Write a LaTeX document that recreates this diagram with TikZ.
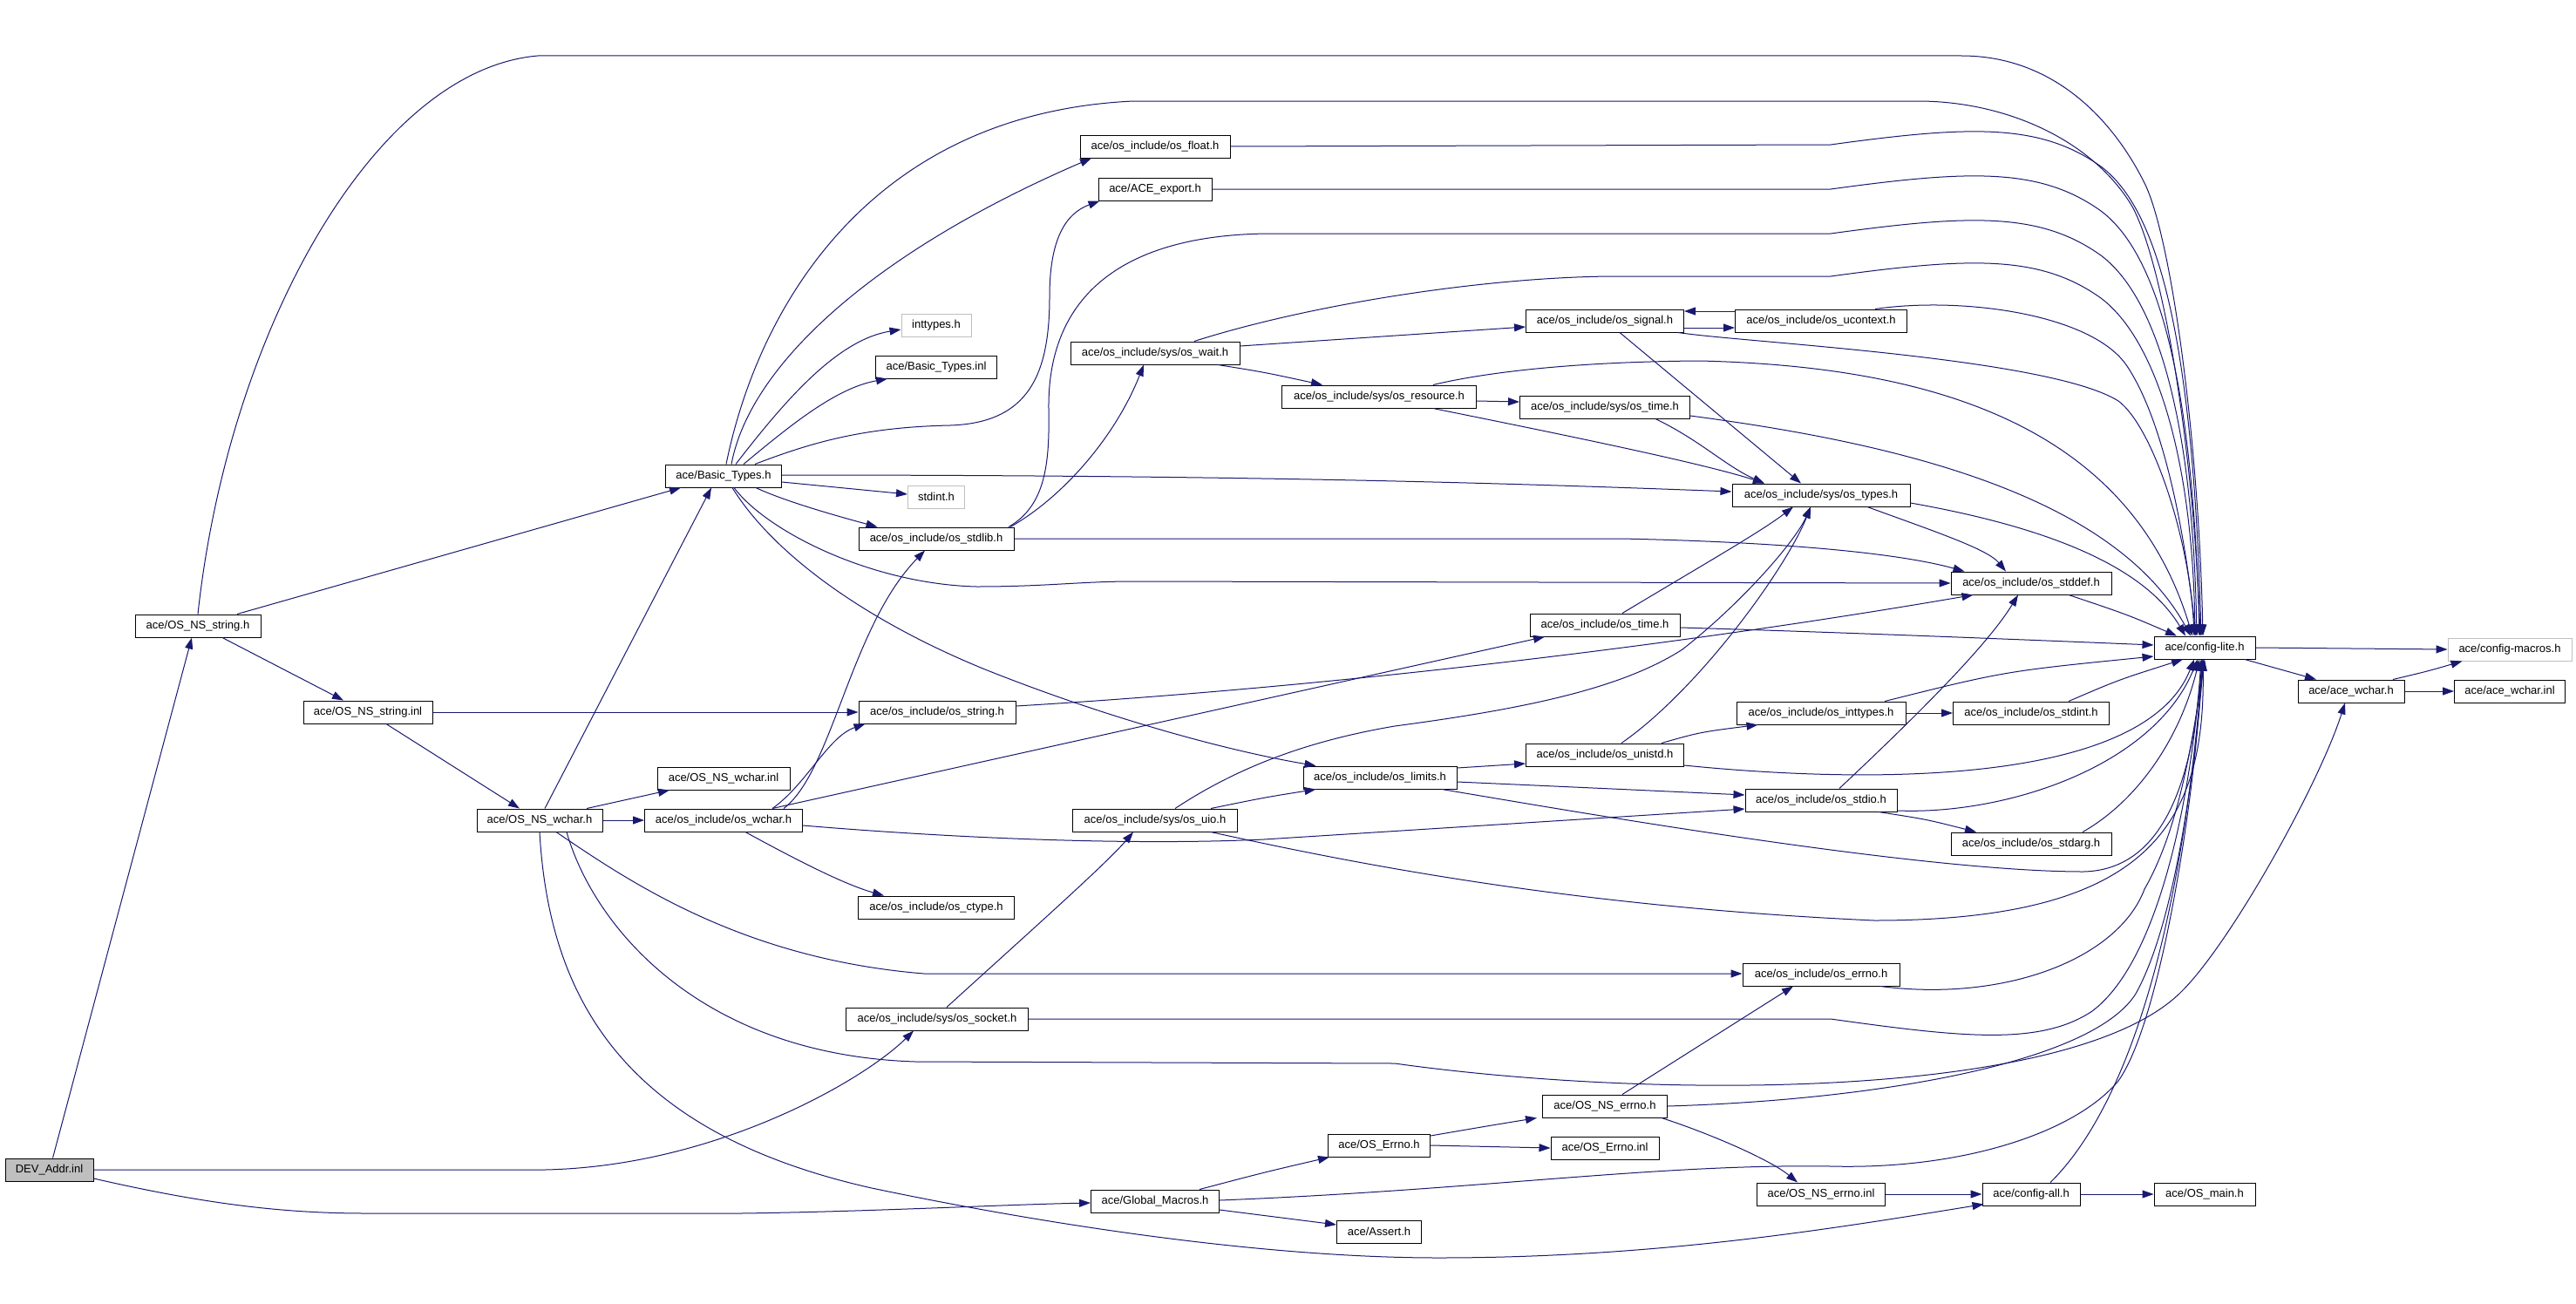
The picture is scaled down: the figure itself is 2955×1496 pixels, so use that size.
\documentclass[tikz,border=0pt]{standalone}
\usepackage{fontspec}
\setmainfont{Liberation Sans}
\usetikzlibrary{arrows.meta}
\definecolor{edgec}{HTML}{191970}
\definecolor{grayc}{HTML}{BFBFBF}
\begin{document}
\begin{tikzpicture}[x=1pt,y=-1pt,
  box/.style={draw=black, line width=1pt, rectangle, minimum height=26pt, inner sep=0pt, font=\fontsize{13}{15}\selectfont, fill=white},
  gbox/.style={box, draw=grayc},
  e/.style={draw=edgec, line width=1pt, -{Triangle[length=13pt,width=9pt]}}]
\fill[white] (0,0) rectangle (2955,1496);
\useasboundingbox (0,0) rectangle (2955,1496);
% nodes
\node[box, fill=grayc, minimum width=101pt] (DEV) at (56.5,1342) {DEV\_Addr.inl};
\node[box, minimum width=144pt] (OSNSstrh) at (227,718) {ace/OS\_NS\_string.h};
\node[box, minimum width=148pt] (OSNSstrinl) at (422,817) {ace/OS\_NS\_string.inl};
\node[box, minimum width=144pt] (OSNSwcharh) at (619,941) {ace/OS\_NS\_wchar.h};
\node[box, minimum width=152pt] (OSNSwcharinl) at (830,893) {ace/OS\_NS\_wchar.inl};
\node[box, minimum width=181pt] (oswchar) at (830,941) {ace/os\_include/os\_wchar.h};
\node[box, minimum width=133pt] (BT) at (830,546) {ace/Basic\_Types.h};
\node[gbox, minimum width=80pt] (inttypes) at (1074,373) {inttypes.h};
\node[box, minimum width=139pt] (BTinl) at (1074,421) {ace/Basic\_Types.inl};
\node[gbox, minimum width=65pt] (stdint) at (1074,570) {stdint.h};
\node[box, minimum width=178pt] (osstdlib) at (1074,618) {ace/os\_include/os\_stdlib.h};
\node[box, minimum width=180pt] (osstring) at (1075,817) {ace/os\_include/os\_string.h};
\node[box, minimum width=179pt] (osctype) at (1074,1041) {ace/os\_include/os\_ctype.h};
\node[box, minimum width=209pt] (ossocket) at (1075,1169) {ace/os\_include/sys/os\_socket.h};
\node[box, minimum width=172pt] (osfloat) at (1325,168) {ace/os\_include/os\_float.h};
\node[box, minimum width=130pt] (ACEexport) at (1325,217) {ace/ACE\_export.h};
\node[box, minimum width=194pt] (oswait) at (1325,405) {ace/os\_include/sys/os\_wait.h};
\node[box, minimum width=189pt] (osuio) at (1325,941) {ace/os\_include/sys/os\_uio.h};
\node[box, minimum width=147pt] (GM) at (1325,1378) {ace/Global\_Macros.h};
\node[box, minimum width=223pt] (osresource) at (1582,455) {ace/os\_include/sys/os\_resource.h};
\node[box, minimum width=176pt] (oslimits) at (1583,892) {ace/os\_include/os\_limits.h};
\node[box, minimum width=117pt] (OSErrnoh) at (1582,1314) {ace/OS\_Errno.h};
\node[box, minimum width=97pt] (Assert) at (1582,1413) {ace/Assert.h};
\node[box, minimum width=181pt] (ossignal) at (1841,368) {ace/os\_include/os\_signal.h};
\node[box, minimum width=195pt] (sysostime) at (1841,467) {ace/os\_include/sys/os\_time.h};
\node[box, minimum width=172pt] (ostime) at (1841,717) {ace/os\_include/os\_time.h};
\node[box, minimum width=181pt] (osunistd) at (1841,866) {ace/os\_include/os\_unistd.h};
\node[box, minimum width=143pt] (OSNSerrnoh) at (1841,1269) {ace/OS\_NS\_errno.h};
\node[box, minimum width=124pt] (OSErrnoinl) at (1841,1317) {ace/OS\_Errno.inl};
\node[box, minimum width=197pt] (osucontext) at (2089,368) {ace/os\_include/os\_ucontext.h};
\node[box, minimum width=204pt] (ostypes) at (2089,568) {ace/os\_include/sys/os\_types.h};
\node[box, minimum width=194pt] (osinttypes) at (2089,818) {ace/os\_include/os\_inttypes.h};
\node[box, minimum width=174pt] (osstdio) at (2089,918) {ace/os\_include/os\_stdio.h};
\node[box, minimum width=180pt] (oserrno) at (2089,1118) {ace/os\_include/os\_errno.h};
\node[box, minimum width=147pt] (OSNSerrnoinl) at (2089,1370) {ace/OS\_NS\_errno.inl};
\node[box, minimum width=184pt] (osstddef) at (2330,669) {ace/os\_include/os\_stddef.h};
\node[box, minimum width=179pt] (osstdint) at (2330,818) {ace/os\_include/os\_stdint.h};
\node[box, minimum width=184pt] (osstdarg) at (2330,968) {ace/os\_include/os\_stdarg.h};
\node[box, minimum width=112pt] (configall) at (2330,1370) {ace/config-all.h};
\node[box, minimum width=116pt] (configlite) at (2529,743) {ace/config-lite.h};
\node[box, minimum width=116pt] (OSmain) at (2529,1370) {ace/OS\_main.h};
\node[box, minimum width=122pt] (acewcharh) at (2697,793) {ace/ace\_wchar.h};
\node[gbox, minimum width=142pt] (configmacros) at (2879,745) {ace/config-macros.h};
\node[box, minimum width=127pt] (acewcharinl) at (2879,793) {ace/ace\_wchar.inl};
% edges
\draw[e] ([xshift=4pt]DEV.north) -- ([xshift=-7pt]OSNSstrh.south);
\draw[e] (DEV.east) -- (625,1342) .. controls (820,1338) and (990,1240) .. ([xshift=-27pt]ossocket.south);
\draw[e] ([yshift=-10pt]DEV.east) .. controls (230,1380) and (320,1392) .. (420,1392) -- (850,1392) .. controls (1000,1390) and (1150,1382) .. ([yshift=-2pt]GM.west);
\draw[e] ([xshift=45pt]OSNSstrh.north) -- ([xshift=18pt]BT.south west);
\draw[e] ([xshift=28pt]OSNSstrh.south) -- ([xshift=-28pt]OSNSstrinl.north);
\draw[e] (OSNSstrh.north) .. controls (262,380) and (430,80) .. (617,64) -- (2250,64) .. controls (2350,64) and (2420,130) .. (2460,210) .. controls (2490,270) and (2522,500) .. ([xshift=-2pt]configlite.north);
\draw[e] (OSNSstrinl.east) -- (osstring.west);
\draw[e] ([xshift=21pt]OSNSstrinl.south) -- ([xshift=-23pt]OSNSwcharh.north);
\draw[e] ([xshift=6pt]OSNSwcharh.north) -- ([xshift=-14pt]BT.south);
\draw[e] ([xshift=54pt]OSNSwcharh.north) .. controls (715,918) .. ([xshift=-62pt]OSNSwcharinl.south);
\draw[e] (OSNSwcharh.east) -- (oswchar.west);
\draw[e] ([xshift=19pt]OSNSwcharh.south) .. controls (720,1010) and (850,1100) .. (1060,1117) -- ([yshift=1pt]oserrno.west);
\draw[e] ([xshift=31pt]OSNSwcharh.south) .. controls (680,1060) and (800,1210) .. (1050,1218) -- (1600,1220) .. controls (1900,1262) and (2380,1262) .. (2503,1137) .. controls (2560,1080) and (2660,900) .. ([xshift=-7pt]acewcharh.south);
\draw[e] (OSNSwcharh.south) .. controls (630,1150) and (720,1300) .. (1000,1363) .. controls (1200,1405) and (1450,1443) .. (1650,1443) .. controls (1900,1443) and (2100,1410) .. ([xshift=2pt,yshift=2pt]configall.south west);
\draw[e] ([xshift=56pt]oswchar.north) .. controls (925,900) and (950,845) .. ([xshift=8pt]osstring.south west);
\draw[e] ([xshift=69pt]oswchar.north) .. controls (955,885) and (975,720) .. ([xshift=-13pt]osstdlib.south);
\draw[e] ([xshift=56pt]oswchar.north) -- ([xshift=-69pt]ostime.south);
\draw[e] ([yshift=-6pt]oswchar.east) .. controls (1100,962) and (1300,970) .. (1450,963) -- ([yshift=-10pt]osstdio.west);
\draw[e] ([xshift=25pt]oswchar.south) .. controls (920,990) and (970,1015) .. ([xshift=-60pt]osctype.north);
\draw[e] ([xshift=3pt]BT.north) .. controls (870,350) and (1000,130) .. (1300,116) -- (2200,116) .. controls (2300,116) and (2400,160) .. (2446,237) .. controls (2480,300) and (2515,500) .. ([xshift=-5pt]configlite.north);
\draw[e] ([xshift=9pt]BT.north) .. controls (860,420) and (1000,290) .. ([xshift=-73pt]osfloat.south);
\draw[e] ([xshift=36pt]BT.north) .. controls (930,508) and (990,490) .. (1090,488) .. controls (1180,485) and (1204,430) .. (1204,340) .. controls (1204,275) and (1222,245) .. ([xshift=2pt]ACEexport.south west);
\draw[e] ([xshift=14pt]BT.north) .. controls (900,460) and (960,390) .. ([yshift=-5pt]inttypes.west);
\draw[e] ([xshift=23pt]BT.north) .. controls (910,485) and (960,445) .. ([xshift=14pt]BTinl.south west);
\draw[e] ([yshift=-7pt]BT.east) -- ([yshift=3pt]stdint.west);
\draw[e] ([yshift=1pt]BT.east) .. controls (1400,545) and (1700,553) .. ([yshift=4pt]ostypes.west);
\draw[e] ([xshift=37pt]BT.south) .. controls (900,575) and (960,592) .. ([xshift=22pt]osstdlib.north west);
\draw[e] ([xshift=12pt]BT.south) .. controls (880,610) and (1000,670) .. (1120,673) .. controls (1200,673) and (1240,667) .. (1300,667) -- (osstddef.west);
\draw[e] ([xshift=10pt]BT.south) .. controls (890,640) and (1000,715) .. (1130,768) .. controls (1260,820) and (1400,860) .. ([xshift=15pt]oslimits.north west);
\draw[e] ([xshift=85pt]osstdlib.north) .. controls (1220,570) and (1280,500) .. ([xshift=-13pt]oswait.south);
\draw[e] ([xshift=83pt]osstdlib.north) .. controls (1200,580) and (1204,530) .. (1203,470) .. controls (1201,330) and (1300,268) .. (1460,268) -- (2100,268) .. controls (2260,246) and (2340,243) .. (2410,293) .. controls (2470,338) and (2515,468) .. ([xshift=-9pt]configlite.north);
\draw[e] (osstdlib.east) -- (1860,618) .. controls (2050,622) and (2180,635) .. ([xshift=16pt]osstddef.north west);
\draw[e] ([yshift=7pt]osstring.east) .. controls (1500,790) and (1900,745) .. ([xshift=26pt]osstddef.south west);
\draw[e] (ACEexport.east) -- (2100,217) .. controls (2260,195) and (2340,192) .. (2410,242) .. controls (2470,287) and (2515,417) .. ([xshift=-6pt]configlite.north);
\draw[e] (osfloat.east) -- (2100,166) .. controls (2260,144) and (2340,141) .. (2410,191) .. controls (2470,236) and (2515,366) .. ([xshift=-4pt]configlite.north);
\draw[e] ([xshift=45pt]oswait.north) .. controls (1500,350) and (1700,318) .. (1850,317) -- (2100,317) .. controls (2260,295) and (2340,292) .. (2410,342) .. controls (2470,387) and (2515,517) .. ([xshift=-11pt]configlite.north);
\draw[e] ([yshift=8pt]oswait.east) -- ([yshift=-7pt]ossignal.west);
\draw[e] ([xshift=72pt]oswait.south) .. controls (1450,427) .. ([xshift=-65pt]osresource.north);
\draw[e] ([yshift=-5pt]osresource.east) -- ([yshift=6pt]sysostime.west);
\draw[e] ([xshift=62pt]osresource.north) .. controls (1700,428) and (1800,415) .. (1950,414) .. controls (2200,420) and (2440,480) .. ([xshift=-14pt]configlite.north);
\draw[e] ([xshift=62pt]osresource.south) .. controls (1750,490) and (1950,530) .. ([xshift=-65pt]ostypes.north);
\draw[e] ([yshift=-10pt]sysostime.east) .. controls (2150,505) and (2420,560) .. ([xshift=-16pt]configlite.north);
\draw[e] ([xshift=58pt]sysostime.south) .. controls (1950,505) and (1980,535) .. ([xshift=-65pt]ostypes.north);
\draw[e] ([xshift=17pt]ossignal.south) -- ([xshift=-23pt]ostypes.north);
\draw[e] ([yshift=-8pt]ossignal.east) -- ([yshift=-8pt]osucontext.west);
\draw[e] ([yshift=11pt]osucontext.west) -- ([yshift=11pt]ossignal.east);
\draw[e] ([xshift=84pt]ossignal.south) .. controls (2000,393) and (2350,410) .. (2430,460) .. controls (2470,490) and (2512,620) .. ([xshift=-12pt]configlite.north);
\draw[e] ([xshift=62pt]osucontext.north) .. controls (2250,340) and (2400,360) .. (2440,420) .. controls (2480,480) and (2505,600) .. ([xshift=-10pt]configlite.north);
\draw[e] ([yshift=-9pt]ostypes.east) .. controls (2350,605) and (2460,650) .. ([xshift=-22pt]configlite.north);
\draw[e] ([xshift=53pt]ostypes.south) .. controls (2220,610) and (2280,630) .. ([xshift=-29pt]osstddef.north);
\draw[e] ([xshift=43pt]osstddef.south) .. controls (2440,705) .. ([xshift=-32pt]configlite.north);
\draw[e] ([xshift=20pt]ostime.north) .. controls (1950,650) and (2020,610) .. ([xshift=-32pt]ostypes.south);
\draw[e] ([yshift=-3pt]ostime.east) .. controls (2100,725) and (2300,733) .. ([yshift=3pt]configlite.west);
\draw[e] ([xshift=23pt]osuio.north) .. controls (1420,880) and (1500,850) .. (1600,833) .. controls (1750,813) and (1860,790) .. (1930,745) .. controls (2000,690) and (2060,620) .. ([xshift=-12pt]ostypes.south);
\draw[e] ([xshift=64pt]osuio.north) .. controls (1450,915) .. ([xshift=15pt]oslimits.south west);
\draw[e] ([xshift=64pt]osuio.south) .. controls (1550,990) and (1800,1040) .. (2150,1056) .. controls (2460,1056) and (2530,950) .. ([xshift=-2pt]configlite.south);
\draw[e] ([xshift=11pt]ossocket.north) .. controls (1180,1070) and (1270,990) .. ([xshift=-25pt]osuio.south);
\draw[e] (ossocket.east) -- (2100,1169) .. controls (2250,1190) and (2340,1200) .. (2400,1160) .. controls (2480,1100) and (2515,900) .. ([xshift=-4pt]configlite.south);
\draw[e] ([yshift=11pt]oslimits.east) -- ([yshift=-10pt]osunistd.west);
\draw[e] ([yshift=-5pt]oslimits.east) .. controls (1850,905) .. ([yshift=6pt]osstdio.west);
\draw[e] ([xshift=71pt]oslimits.south) .. controls (1800,930) and (2200,1000) .. (2390,1000) .. controls (2480,998) and (2515,900) .. ([xshift=-3pt]configlite.south);
\draw[e] ([xshift=65pt]osunistd.north) .. controls (1950,840) .. ([xshift=25pt]osinttypes.south west);
\draw[e] ([xshift=19pt]osunistd.north) .. controls (1950,790) and (2050,650) .. ([xshift=-12pt]ostypes.south);
\draw[e] ([yshift=-12pt]osunistd.east) .. controls (2150,900) and (2460,900) .. ([xshift=-12pt]configlite.south);
\draw[e] (osinttypes.east) -- (osstdint.west);
\draw[e] ([xshift=73pt]osinttypes.north) .. controls (2300,770) .. ([yshift=-10pt]configlite.west);
\draw[e] ([xshift=43pt]osstdint.north) .. controls (2430,780) .. ([xshift=-25pt]configlite.south);
\draw[e] ([xshift=66pt]osstdio.south) .. controls (2210,940) .. ([xshift=-63pt]osstdarg.north);
\draw[e] ([xshift=21pt]osstdio.north) .. controls (2200,820) and (2280,740) .. ([xshift=-15pt]osstddef.south);
\draw[e] ([yshift=-12pt]osstdio.east) .. controls (2300,935) and (2470,880) .. ([xshift=-8pt]configlite.south);
\draw[e] ([xshift=59pt]osstdarg.north) .. controls (2450,920) and (2500,850) .. ([xshift=-6pt]configlite.south);
\draw[e] ([xshift=68pt]oserrno.south) .. controls (2300,1150) and (2430,1100) .. (2460,1020) .. controls (2500,950) and (2515,850) .. (configlite.south);
\draw[e] (OSNSerrnoh.east) .. controls (2150,1262) and (2400,1220) .. (2450,1140) .. controls (2500,1050) and (2520,850) .. ([xshift=-1pt]configlite.south);
\draw[e] ([xshift=20pt]OSNSerrnoh.north) -- ([xshift=-32pt]oserrno.south);
\draw[e] ([xshift=65pt]OSNSerrnoh.south) .. controls (1960,1300) and (2030,1330) .. ([xshift=-27pt]OSNSerrnoinl.north);
\draw[e] (OSNSerrnoinl.east) -- (configall.west);
\draw[e] (configall.east) -- (OSmain.west);
\draw[e] ([xshift=22pt]configall.north) .. controls (2430,1280) and (2500,1100) .. ([xshift=-2pt]configlite.south);
\draw[e] ([yshift=1pt]GM.east) .. controls (1700,1365) and (1900,1335) .. (2100,1338) .. controls (2250,1342) and (2380,1300) .. (2430,1240) .. controls (2480,1170) and (2520,900) .. ([xshift=-3pt]configlite.south);
\draw[e] ([xshift=51pt]GM.north) .. controls (1450,1345) .. ([xshift=2pt]OSErrnoh.south west);
\draw[e] ([yshift=-10pt]GM.east) -- ([yshift=8pt]Assert.west);
\draw[e] ([yshift=11pt]OSErrnoh.east) .. controls (1705,1292) .. ([xshift=-6pt]OSNSerrnoh.south west);
\draw[e] (OSErrnoh.east) -- (OSErrnoinl.west);
\draw[e] (configlite.east) -- (configmacros.west);
\draw[e] ([xshift=46pt]configlite.south) -- ([xshift=-40pt]acewcharh.north);
\draw[e] ([xshift=48pt]acewcharh.north) .. controls (2785,770) .. ([xshift=17pt]configmacros.south west);
\draw[e] (acewcharh.east) -- (acewcharinl.west);
\end{tikzpicture}
\end{document}
